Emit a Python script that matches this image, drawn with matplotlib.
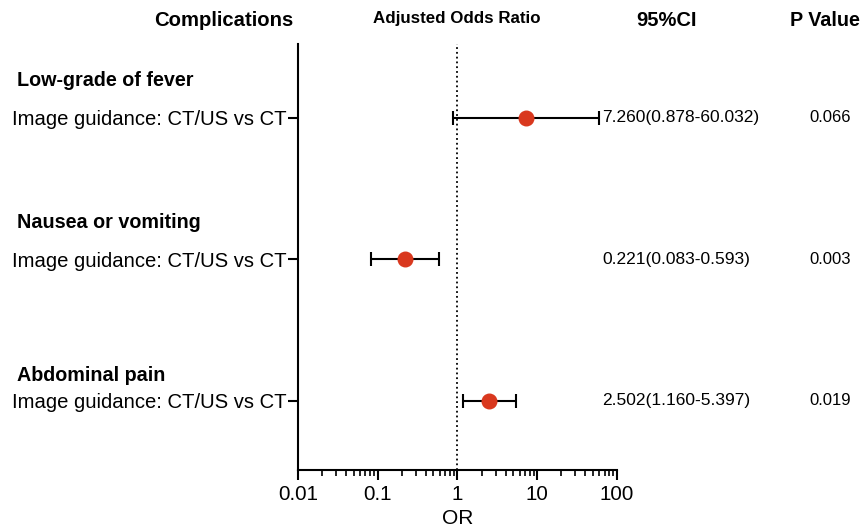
import matplotlib.pyplot as plt
import numpy as np

plt.rcParams['font.family'] = ['Liberation Sans', 'DejaVu Sans']

# data
groups = ['Low-grade of fever', 'Nausea or vomiting', 'Abdominal pain']
row_labels = ['Image guidance: CT/US vs CT'] * 3
odds = [7.260, 0.221, 2.502]
ci_low = [0.878, 0.083, 1.160]
ci_high = [60.032, 0.593, 5.397]
p_values = ['0.066', '0.003', '0.019']
ticks = [0.01, 0.1, 1, 10, 100]
tick_labels = ['0.01', '0.1', '1', '10', '100']

# layout: header baseline offset above each row (pixels)
header_offsets = [32, 31, 20]

W, H = 862, 532
fig = plt.figure(figsize=(W / 100, H / 100), dpi=100)
ax = fig.add_axes([298 / W, 1 - 470 / H, (617 - 298) / W, (470 - 44) / H])

y = np.arange(len(odds))
err = [np.array(odds) - np.array(ci_low), np.array(ci_high) - np.array(odds)]
ax.errorbar(odds, y, xerr=err, fmt='none', ecolor='black', elinewidth=1.5,
            capsize=5, capthick=1.5, zorder=2)
ax.scatter(odds, y, s=110, color='#d9381e', zorder=3)
ax.axvline(1, color='black', linestyle=':', linewidth=1.3, zorder=1)

ax.set_xscale('log')
ax.set_xlim(0.01, 100)
ax.set_ylim(2.49, -0.52)
ax.set_xticks(ticks)
ax.set_xticklabels(tick_labels, fontsize=14.8)
ax.set_yticks(y)
ax.set_yticklabels(row_labels, fontsize=14.6)
ax.tick_params(axis='x', which='major', length=7, width=1.5, direction='out')
ax.tick_params(axis='x', which='minor', length=4, width=1.2)
ax.tick_params(axis='y', length=7, width=1.5, pad=1)
ax.set_xlabel('OR', fontsize=15, labelpad=4)
for s in ['top', 'right']:
    ax.spines[s].set_visible(False)
for s in ['left', 'bottom']:
    ax.spines[s].set_linewidth(1.5)

# group headers
for i, g in enumerate(groups):
    ax.annotate(g, xy=(17 / W, i), xycoords=('figure fraction', 'data'),
                xytext=(0, header_offsets[i]), textcoords='offset pixels',
                ha='left', va='baseline', fontsize=14.2, fontweight='bold')

# CI and P value columns
for i in range(len(odds)):
    ci_txt = f'{odds[i]:.3f}({ci_low[i]:.3f}-{ci_high[i]:.3f})'
    ax.annotate(ci_txt, xy=(602 / W, i), xycoords=('figure fraction', 'data'),
                ha='left', va='center', fontsize=12.5)
    ax.annotate(p_values[i], xy=(830 / W, i), xycoords=('figure fraction', 'data'),
                ha='center', va='center', fontsize=12)

# column headers
fig.text(224 / W, 1 - 20 / H, 'Complications', ha='center', va='center',
         fontsize=14.6, fontweight='bold')
fig.text(457 / W, 1 - 18 / H, 'Adjusted Odds Ratio', ha='center', va='center',
         fontsize=12.2, fontweight='bold')
fig.text(667 / W, 1 - 20 / H, '95%CI', ha='center', va='center',
         fontsize=14.5, fontweight='bold')
fig.text(825 / W, 1 - 20 / H, 'P Value', ha='center', va='center',
         fontsize=14.2, fontweight='bold')

fig.savefig('out.png', dpi=100)
